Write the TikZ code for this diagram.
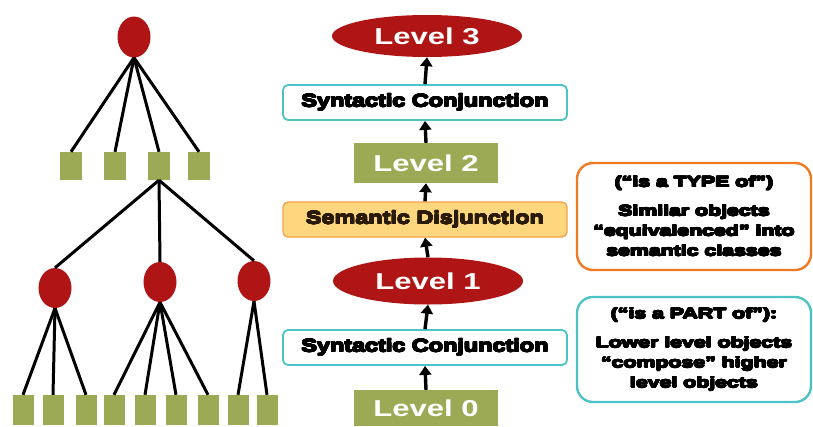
\documentclass[tikz,border=0pt]{standalone}
\usepackage{fontspec}
\setmainfont{Liberation Sans}
\usepackage{graphicx}
\usepackage{contour}
\contourlength{0.45pt}
\contournumber{16}
\usetikzlibrary{shapes.geometric,arrows.meta}
\definecolor{dred}{HTML}{B01515}
\definecolor{olivegr}{HTML}{9DAA55}
\definecolor{tealb}{HTML}{4EC3C6}
\definecolor{orng}{HTML}{F07A22}
\definecolor{lorng}{HTML}{FDD67E}
\definecolor{orngb}{HTML}{F4A24A}
\definecolor{semtxt}{HTML}{2A1A08}
\newcommand{\hsc}[2][1.35]{\scalebox{#1}[1]{#2}}
\newcommand{\hv}[1]{\hsc[1.42]{\contour{black}{#1}}}
\tikzset{
  treeell/.style={ellipse, fill=dred, inner sep=0pt, minimum width=33pt, minimum height=41pt},
  leafbox/.style={rectangle, fill=olivegr, inner sep=0pt, minimum width=22pt, minimum height=28pt},
  tline/.style={line width=3pt, black},
  levell/.style={ellipse, fill=dred, inner sep=0pt, minimum width=190pt, text=white, font=\fontsize{23}{26}\selectfont\bfseries},
  levelr/.style={rectangle, fill=olivegr, inner sep=0pt, minimum width=144pt, text=white, font=\fontsize{23}{26}\selectfont\bfseries},
  synbox/.style={rectangle, rounded corners=5pt, draw=tealb, line width=1.8pt, fill=white, minimum width=284pt, minimum height=35pt, inner sep=0pt, font=\fontsize{18}{20}\selectfont\bfseries},
  sembox/.style={rectangle, rounded corners=5pt, draw=orngb, line width=1.3pt, fill=lorng, minimum width=284pt, minimum height=35pt, inner sep=0pt, text=semtxt, font=\fontsize{18}{20}\selectfont\bfseries},
  upar/.style={-{Triangle[length=9pt,width=12pt]}, line width=3.4pt, black},
  notebox/.style={rectangle, rounded corners=16pt, line width=2.4pt, minimum width=234pt, inner sep=0pt, align=center, font=\fontsize{15}{20}\selectfont\bfseries},
}
\begin{document}
\begin{tikzpicture}[x=1pt,y=-1pt]
\useasboundingbox (0,0) rectangle (813,426);
% ---- left tree ----
\node[treeell] (A) at (134,37) {};
\node[leafbox] (m1) at (71,166) {};
\node[leafbox] (m2) at (115,166) {};
\node[leafbox] (m3) at (159,166) {};
\node[leafbox] (m4) at (199,166) {};
\node[treeell, minimum height=40pt] (e1) at (55,288) {};
\node[treeell, minimum height=40pt] (e2) at (160,282) {};
\node[treeell, minimum height=40pt] (e3) at (254,281) {};
\foreach \n/\x in {1/23,2/53,3/86,4/114,5/145,6/176,7/208,8/238,9/267}{
  \node[leafbox, minimum width=21pt, minimum height=30pt] (b\n) at (\x,410) {};
}
\foreach \m in {m1,m2,m3,m4} \draw[tline] (A.south) -- (\m.north);
\foreach \e in {e1,e2,e3} \draw[tline] (m3.south) -- (\e.north);
\foreach \b in {b1,b2,b3} \draw[tline] (e1.south) -- (\b.north);
\foreach \b in {b4,b5,b6,b7} \draw[tline] (e2.south) -- (\b.north);
\foreach \b in {b8,b9} \draw[tline] (e3.south) -- (\b.north);
% ---- middle column ----
\node[levell, minimum height=42pt] (L3) at (427,36) {\hsc{Level 3}};
\node[synbox] (S1) at (425,102.5) {\hsc[1.3]{\contour{black}{Syntactic Conjunction}}};
\node[levelr, minimum height=40pt] (L2) at (426,163) {\hsc{Level 2}};
\node[sembox] (SD) at (425,219.5) {\hsc[1.3]{\contourlength{0.25pt}\contour{semtxt}{Semantic Disjunction}}};
\node[levell, minimum height=47pt] (L1) at (428,281) {\hsc{Level 1}};
\node[synbox] (S0) at (425,347.5) {\hsc[1.3]{\contour{black}{Syntactic Conjunction}}};
\node[levelr, minimum height=36pt] (L0) at (426,408) {\hsc{Level 0}};
\draw[upar] (L0.north) -- (S0.south);
\draw[upar] (S0.north) -- (L1.south);
\draw[upar] (L1.north) -- (SD.south);
\draw[upar] (SD.north) -- (L2.south);
\draw[upar] (L2.north) -- (S1.south);
\draw[upar] (S1.north) -- (L3.south);
% ---- right notes ----
\node[notebox, draw=orng, minimum height=107pt] (T) at (694,216.5)
  {\hv{(“is a TYPE of”)}\\[9pt]\hv{Similar objects}\\\hv{“equivalenced” into}\\\hv{semantic classes}};
\node[notebox, draw=tealb, minimum height=105pt] (P) at (694,349.5)
  {\hv{(“is a PART of”):}\\[9pt]\hv{Lower level objects}\\\hv{“compose” higher}\\\hv{level objects}};
\end{tikzpicture}
\end{document}
